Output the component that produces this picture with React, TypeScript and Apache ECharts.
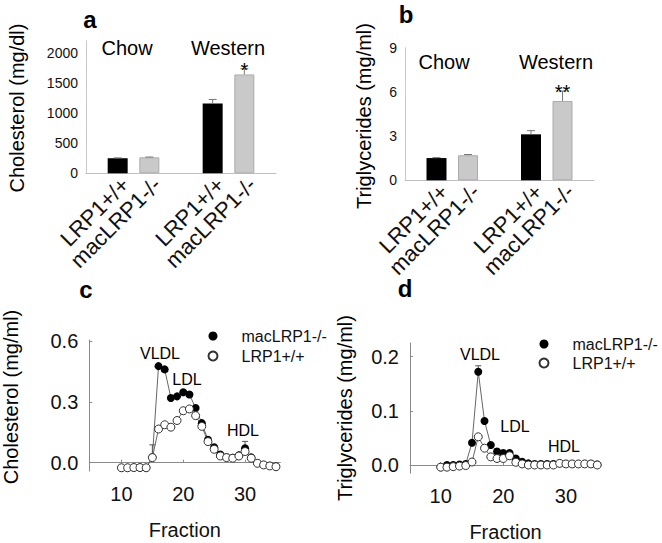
import React, { useEffect, useRef } from 'react';
import * as echarts from 'echarts';

const FONT = '"Liberation Sans", Arial, Helvetica, sans-serif';

// ---- Panels a & b: bar charts ----
const barCategories = ['', 'LRP1+/+', 'macLRP1-/-', '', 'LRP1+/+', 'macLRP1-/-', ''];
const dietGroups = ['Chow', 'Western'];
const cholLRP1 = [250, 1160];
const cholLRP1Err = [6, 65];
const cholMac = [265, 1640];
const cholMacErr = [5, 95];
const cholSig = ['', '*'];
const cholTicks = [0, 500, 1000, 1500, 2000];

const tgLRP1 = [1.51, 3.12];
const tgLRP1Err = [0.03, 0.25];
const tgMac = [1.7, 5.38];
const tgMacErr = [0.05, 0.68];
const tgSig = ['', '**'];
const tgTicks = [0, 3, 6, 9];

// ---- Panels c & d: FPLC fractions ----
const fractions = [10, 11, 12, 13, 14, 15, 16, 17, 18, 19, 20, 21, 22, 23, 24, 25, 26, 27, 28, 29, 30, 31, 32, 33, 34, 35];
const cholFracMac = [-0.025, -0.025, -0.024, -0.024, -0.025, 0.027, 0.476, 0.46, 0.319, 0.327, 0.347, 0.336, 0.27, 0.195, 0.113, 0.076, 0.04, 0.027, 0.024, 0.036, 0.071, 0.026, -0.002, -0.01, -0.015, -0.019];
const cholFracLRP1 = [-0.025, -0.025, -0.024, -0.024, -0.025, 0.025, 0.166, 0.187, 0.175, 0.208, 0.256, 0.265, 0.232, 0.179, 0.104, 0.066, 0.033, 0.025, 0.022, 0.033, 0.055, 0.022, -0.003, -0.011, -0.016, -0.02];
const cholFracErrX = [15, 30];
const cholFracErrHigh = [0.088, 0.105];

const tgFracMac = [-0.004, 0.0, 0.0, 0.001, 0.002, 0.041, 0.172, 0.081, 0.037, 0.025, 0.022, 0.022, 0.012, 0.006, 0.003, 0.002, 0.002, 0.002, 0.002, 0.003, 0.002, 0.002, 0.002, 0.002, 0.002, 0.001];
const tgFracLRP1 = [-0.004, -0.004, -0.003, -0.002, -0.001, 0.0055, 0.052, 0.031, 0.015, 0.012, 0.012, 0.017, 0.005, 0.002, 0.0, 0.0, 0.0, 0.0, 0.0, 0.003, 0.002, 0.002, 0.002, 0.002, 0.002, 0.0];
const tgFracErrX = [16];
const tgFracErrHigh = [0.183];

const fracTicks = [10, 20, 30];
const cholFracTicks = [0, 0.3, 0.6];
const tgFracTicks = [0, 0.1, 0.2];

function barData(values: number[], offset: number) {
  const d: (number | string)[] = barCategories.map(() => '-');
  values.forEach((v, g) => {
    d[offset + 3 * g] = v;
  });
  return d;
}

function barErrData(lrp: number[], lrpErr: number[], mac: number[], macErr: number[]) {
  const d: number[][] = [];
  dietGroups.forEach((_, g) => {
    d.push([1 + 3 * g, lrp[g], lrp[g] + lrpErr[g]]);
    d.push([2 + 3 * g, mac[g], mac[g] + macErr[g]]);
  });
  return d;
}

function barErrSig(sig: string[]) {
  const s: string[] = [];
  dietGroups.forEach((_, g) => {
    s.push('');
    s.push(sig[g]);
  });
  return s;
}

function makeErrRender(sigs: string[] | null, cap: number, color: string) {
  return (params: any, api: any) => {
    const x = api.value(0);
    const lo = api.value(1);
    const hi = api.value(2);
    const p0 = api.coord([x, lo]);
    const p1 = api.coord([x, hi]);
    const children: any[] = [
      { type: 'line', shape: { x1: p0[0], y1: p0[1], x2: p1[0], y2: p1[1] }, style: { stroke: color, lineWidth: 1 } },
      { type: 'line', shape: { x1: p1[0] - cap, y1: p1[1], x2: p1[0] + cap, y2: p1[1] }, style: { stroke: color, lineWidth: 1 } },
    ];
    const t = sigs ? sigs[params.dataIndex] : '';
    if (t) {
      children.push({
        type: 'text',
        x: p1[0],
        y: p1[1] + 1,
        style: { text: t, align: 'center', verticalAlign: 'middle', fontSize: 20, lineHeight: 12, fontFamily: FONT, fill: '#000' },
      });
    }
    return { type: 'group', children };
  };
}

function fracErrData(xs: number[], highs: number[], base: number[]) {
  return xs.map((x, i) => [x, base[fractions.indexOf(x)], highs[i]]);
}

function pairs(ys: number[]) {
  return fractions.map((f, i) => [f, ys[i]]);
}

function txt(text: string, x: number, y: number, fontSize: number, extra: any = {}) {
  return {
    type: 'text',
    x,
    y,
    silent: true,
    ...extra,
    style: { text, fontSize, fontFamily: FONT, fill: '#000', align: 'center', verticalAlign: 'middle', ...(extra.style || {}) },
  };
}

export default function App() {
  const ref = useRef<HTMLDivElement>(null);

  useEffect(() => {
    if (!ref.current) return;
    const chart = echarts.init(ref.current, undefined, { renderer: 'svg' });

    const barX = (gridIndex: number) => ({
      type: 'category',
      gridIndex,
      data: barCategories,
      boundaryGap: false,
      axisLine: { show: true, lineStyle: { color: '#c0c0c0', width: 1 } },
      axisTick: { show: false },
      axisLabel: { interval: 0, rotate: 45, fontSize: 22, margin: 0, verticalAlign: 'top', color: '#111', fontFamily: FONT },
      splitLine: { show: false },
    });

    const fracX = (gridIndex: number, min: number, max: number) => ({
      type: 'value',
      gridIndex,
      min,
      max,
      name: 'Fraction',
      nameLocation: 'middle',
      nameGap: 49,
      nameTextStyle: { fontSize: 20, fontFamily: FONT, color: '#111' },
      axisLine: { show: true, lineStyle: { color: '#8a8a8a', width: 1 } },
      axisTick: { show: true, inside: true, length: 3, customValues: fracTicks, lineStyle: { color: '#8a8a8a' } },
      axisLabel: { customValues: fracTicks, fontSize: 20, margin: 13, color: '#111', fontFamily: FONT },
      splitLine: { show: false },
    });

    const fracY = (gridIndex: number, min: number, max: number, ticks: number[]) => ({
      type: 'value',
      gridIndex,
      min,
      max,
      axisLine: { show: true, lineStyle: { color: '#8a8a8a', width: 1 } },
      axisTick: { show: true, inside: true, length: 3, customValues: ticks, lineStyle: { color: '#8a8a8a' } },
      axisLabel: { customValues: ticks, fontSize: 20, margin: 11, color: '#111', fontFamily: FONT, formatter: (v: number) => v.toFixed(1) },
      splitLine: { show: false },
    });

    const legendCommon = {
      data: ['macLRP1-/-', 'LRP1+/+'],
      orient: 'vertical',
      padding: 0,
      icon: 'circle',
      itemWidth: 9,
      itemHeight: 9,
      selectedMode: false,
      textStyle: { fontSize: 16, color: '#111', fontFamily: FONT, padding: [0, 0, 0, 19] },
    };

    const option: any = {
      animation: false,
      backgroundColor: '#fff',
      textStyle: { fontFamily: FONT },
      grid: [
        { left: 86, top: 40.7, width: 190, height: 132.6, outerBoundsMode: 'none' },
        { left: 405, top: 47.7, width: 189, height: 132.6, outerBoundsMode: 'none' },
        { left: 89.3, top: 340, width: 191, height: 131, outerBoundsMode: 'none' },
        { left: 410, top: 343, width: 191, height: 130.3, outerBoundsMode: 'none' },
      ],
      xAxis: [barX(0), barX(1), fracX(2, 4.8, 35.7), fracX(3, 5.1, 35.6)],
      yAxis: [
        {
          type: 'value', gridIndex: 0, min: 0, max: 2200,
          axisLine: { show: true, lineStyle: { color: '#c8c8c8' } },
          axisTick: { show: false },
          axisLabel: { customValues: cholTicks, fontSize: 14, margin: 8, color: '#111', fontFamily: FONT, formatter: (v: number) => String(v) },
          splitLine: { show: false },
        },
        {
          type: 'value', gridIndex: 1, min: 0, max: 9, interval: 3,
          axisLine: { show: true, lineStyle: { color: '#c8c8c8' } },
          axisTick: { show: false },
          axisLabel: { customValues: tgTicks, fontSize: 14, margin: 8, color: '#111', fontFamily: FONT, formatter: (v: number) => String(v) },
          splitLine: { show: false },
        },
        fracY(2, -0.041, 0.605, cholFracTicks),
        fracY(3, -0.0153, 0.225, tgFracTicks),
      ],
      legend: [
        { ...legendCommon, left: 207.5, top: 328, itemGap: 4 },
        { ...legendCommon, left: 538.5, top: 336, itemGap: 3 },
      ],
      series: [
        // panel a
        { type: 'bar', name: 'a-LRP1', xAxisIndex: 0, yAxisIndex: 0, data: barData(cholLRP1, 1), barWidth: 20, barGap: '-100%', itemStyle: { color: '#000' }, silent: true },
        { type: 'bar', name: 'a-mac', xAxisIndex: 0, yAxisIndex: 0, data: barData(cholMac, 2), barWidth: 20, barGap: '-100%', itemStyle: { color: '#c9c9c9', borderColor: '#ababab', borderWidth: 1 }, silent: true },
        { type: 'custom', xAxisIndex: 0, yAxisIndex: 0, data: barErrData(cholLRP1, cholLRP1Err, cholMac, cholMacErr), renderItem: makeErrRender(barErrSig(cholSig), 4, '#777'), silent: true, z: 5 },
        // panel b
        { type: 'bar', name: 'b-LRP1', xAxisIndex: 1, yAxisIndex: 1, data: barData(tgLRP1, 1), barWidth: 20, barGap: '-100%', itemStyle: { color: '#000' }, silent: true },
        { type: 'bar', name: 'b-mac', xAxisIndex: 1, yAxisIndex: 1, data: barData(tgMac, 2), barWidth: 20, barGap: '-100%', itemStyle: { color: '#c9c9c9', borderColor: '#ababab', borderWidth: 1 }, silent: true },
        { type: 'custom', xAxisIndex: 1, yAxisIndex: 1, data: barErrData(tgLRP1, tgLRP1Err, tgMac, tgMacErr), renderItem: makeErrRender(barErrSig(tgSig), 4, '#777'), silent: true, z: 5 },
        // panel c
        { type: 'line', xAxisIndex: 2, yAxisIndex: 2, data: pairs(cholFracMac), symbol: 'none', lineStyle: { color: '#666', width: 1 }, silent: true, z: 1 },
        { type: 'line', xAxisIndex: 2, yAxisIndex: 2, data: pairs(cholFracLRP1), symbol: 'none', lineStyle: { color: '#666', width: 1 }, silent: true, z: 1 },
        { type: 'custom', xAxisIndex: 2, yAxisIndex: 2, data: fracErrData(cholFracErrX, cholFracErrHigh, cholFracMac), renderItem: makeErrRender(null, 3, '#555'), silent: true, z: 2 },
        { type: 'scatter', name: 'macLRP1-/-', xAxisIndex: 2, yAxisIndex: 2, data: pairs(cholFracMac), symbol: 'circle', symbolSize: 8, itemStyle: { color: '#000', opacity: 1 }, silent: true, z: 3 },
        { type: 'scatter', name: 'LRP1+/+', xAxisIndex: 2, yAxisIndex: 2, data: pairs(cholFracLRP1), symbol: 'circle', symbolSize: 8, itemStyle: { color: '#fff', borderColor: '#333', borderWidth: 1, opacity: 1 }, silent: true, z: 4 },
        // panel d
        { type: 'line', xAxisIndex: 3, yAxisIndex: 3, data: pairs(tgFracMac), symbol: 'none', lineStyle: { color: '#666', width: 1 }, silent: true, z: 1 },
        { type: 'line', xAxisIndex: 3, yAxisIndex: 3, data: pairs(tgFracLRP1), symbol: 'none', lineStyle: { color: '#666', width: 1 }, silent: true, z: 1 },
        { type: 'custom', xAxisIndex: 3, yAxisIndex: 3, data: fracErrData(tgFracErrX, tgFracErrHigh, tgFracMac), renderItem: makeErrRender(null, 3, '#555'), silent: true, z: 2 },
        { type: 'scatter', name: 'macLRP1-/-', xAxisIndex: 3, yAxisIndex: 3, data: pairs(tgFracMac), symbol: 'circle', symbolSize: 8, itemStyle: { color: '#000', opacity: 1 }, silent: true, z: 3 },
        { type: 'scatter', name: 'LRP1+/+', xAxisIndex: 3, yAxisIndex: 3, data: pairs(tgFracLRP1), symbol: 'circle', symbolSize: 8, itemStyle: { color: '#fff', borderColor: '#333', borderWidth: 1, opacity: 1 }, silent: true, z: 4 },
      ],
      graphic: [
        // panel letters
        txt('a', 90, 19, 24, { style: { fontWeight: 'bold' } }),
        txt('b', 406, 14, 24, { style: { fontWeight: 'bold' } }),
        txt('c', 86, 289, 24, { style: { fontWeight: 'bold' } }),
        txt('d', 405, 288, 24, { style: { fontWeight: 'bold' } }),
        // y axis titles
        txt('Cholesterol (mg/dl)', 17, 108, 20, { rotation: Math.PI / 2 }),
        txt('Triglycerides (mg/ml)', 364, 116, 20, { rotation: Math.PI / 2 }),
        txt('Cholesterol (mg/ml)', 11, 397, 20, { rotation: Math.PI / 2 }),
        txt('Triglycerides (mg/ml)', 345, 408, 20, { rotation: Math.PI / 2 }),
        // diet group headers
        txt(dietGroups[0], 127, 48, 20),
        txt(dietGroups[1], 228, 48, 20),
        txt(dietGroups[0], 444, 62, 20),
        txt(dietGroups[1], 556, 62, 20),
        // lipoprotein annotations
        txt('VLDL', 160, 353, 16),
        txt('LDL', 187, 379, 16),
        txt('HDL', 243, 430, 16),
        txt('VLDL', 480, 354, 16),
        txt('LDL', 515, 426, 16),
        txt('HDL', 564, 446, 16),
      ],
    };

    chart.setOption(option);
    return () => {
      chart.dispose();
    };
  }, []);

  return (
    <div
      ref={ref}
      style={{ position: 'fixed', left: 0, top: 0, width: 662, height: 543, background: '#fff' }}
    />
  );
}
